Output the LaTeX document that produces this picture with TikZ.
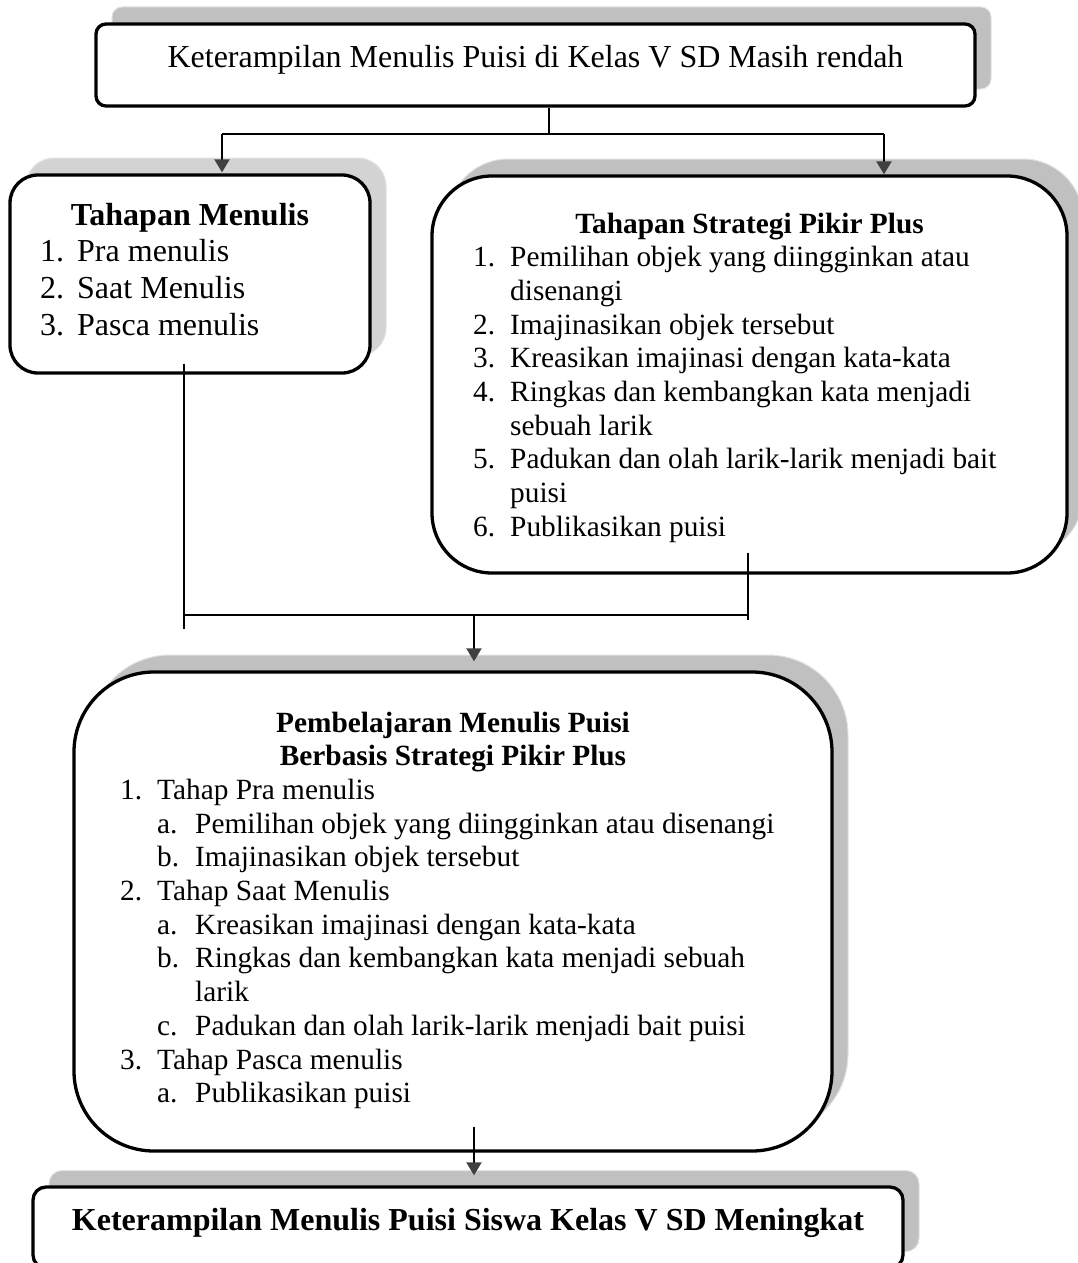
\documentclass[tikz,border=0pt]{standalone}
\usepackage{fontspec}
\setmainfont{Liberation Serif}
\usetikzlibrary{arrows.meta,calc}
\definecolor{shadowgray}{HTML}{C0C0C0}
\definecolor{shadowlight}{HTML}{D3D3D3}
\definecolor{shadowedge}{HTML}{E2E2E2}
\definecolor{tipgray}{HTML}{404040}
\tikzset{
  boxshape/.style={draw=black, line width=3.3pt, fill=white, inner sep=0pt},
  shadowshape/.style={draw=shadowedge, line width=1pt, fill=shadowgray, inner sep=0pt},
  bigtxt/.style={inner sep=0pt, font=\fontsize{32}{36.8}\selectfont},
  smalltxt/.style={inner sep=0pt, font=\fontsize{29.33}{33.7}\selectfont},
  conn/.style={draw=black, line width=1.6pt},
  arr/.style={draw=black, line width=2pt, -{Triangle[width=15pt,length=13pt,color=tipgray]}},
}
\begin{document}
\begin{tikzpicture}[x=1pt,y=-1pt]
\clip (0,0) rectangle (1078,1263);
\fill[white] (0,0) rectangle (1078,1263);

% ---------- shadows ----------
\node[shadowshape, rounded corners=10pt, minimum width=879pt, minimum height=82pt] (s1) at (551.5,48) {};
\node[shadowshape, fill=shadowlight, rounded corners=28pt, minimum width=360pt, minimum height=198pt] (s2) at (206,257) {};
\node[shadowshape, rounded corners=60pt, minimum width=635pt, minimum height=397pt] (s3) at (765.5,357.5) {};
\node[shadowshape, rounded corners=80pt, minimum width=758pt, minimum height=479pt] (s4) at (469,894.5) {};
\node[shadowshape, rounded corners=13pt, minimum width=870pt, minimum height=81pt] (s5) at (484,1211) {};

% ---------- boxes ----------
\node[boxshape, rounded corners=10pt, minimum width=879pt, minimum height=82pt] (box1) at (535.5,65) {};
\node[boxshape, rounded corners=28pt, minimum width=360pt, minimum height=198pt] (box2) at (190,274) {};
\node[boxshape, rounded corners=60pt, minimum width=635pt, minimum height=397pt] (box3) at (749.5,374.5) {};
\node[boxshape, rounded corners=80pt, minimum width=758pt, minimum height=479pt] (box4) at (453,911.5) {};
\node[boxshape, rounded corners=13pt, minimum width=870pt, minimum height=81pt] (box5) at (468,1227.5) {};

% ---------- texts ----------
\node[bigtxt, anchor=base] (t1) at (535.5,67) {Keterampilan Menulis Puisi di Kelas V SD Masih rendah};

\node[bigtxt, anchor=base, font=\fontsize{32}{36.8}\selectfont\bfseries] (t2h) at (190,225) {Tahapan Menulis};
\foreach \yy/\nn/\tt [count=\i] in {261.8/{1.}/{Pra menulis}, 298.6/{2.}/{Saat Menulis}, 335.4/{3.}/{Pasca menulis}}{
  \node[bigtxt, anchor=base west] (t2n\i) at (40,\yy) {\nn};
  \node[bigtxt, anchor=base west] (t2t\i) at (77,\yy) {\tt};
}

\node[smalltxt, anchor=base, font=\fontsize{29.33}{33.7}\selectfont\bfseries] (t3h) at (749.5,233) {Tahapan Strategi Pikir Plus};
\foreach \yy/\nn/\tt [count=\i] in {
  266.7/{1.}/{Pemilihan objek yang diingginkan atau},
  300.4/{}/{disenangi},
  334.1/{2.}/{Imajinasikan objek tersebut},
  367.8/{3.}/{Kreasikan imajinasi dengan kata-kata},
  401.5/{4.}/{Ringkas dan kembangkan kata menjadi},
  435.2/{}/{sebuah larik},
  468.9/{5.}/{Padukan dan olah larik-larik menjadi bait},
  502.6/{}/{puisi},
  536.3/{6.}/{Publikasikan puisi}}{
  \node[smalltxt, anchor=base west] (t3n\i) at (473,\yy) {\nn};
  \node[smalltxt, anchor=base west] (t3t\i) at (510,\yy) {\tt};
}

\node[smalltxt, anchor=base, font=\fontsize{29.33}{33.7}\selectfont\bfseries] (t4h1) at (453,732) {Pembelajaran Menulis Puisi};
\node[smalltxt, anchor=base, font=\fontsize{29.33}{33.7}\selectfont\bfseries] (t4h2) at (453,765.7) {Berbasis Strategi Pikir Plus};
\foreach \yy/\xn/\nn/\xt/\tt [count=\i] in {
  799.4/120/{1.}/157/{Tahap Pra menulis},
  833.1/157/{a.}/195/{Pemilihan objek yang diingginkan atau disenangi},
  866.8/157/{b.}/195/{Imajinasikan objek tersebut},
  900.5/120/{2.}/157/{Tahap Saat Menulis},
  934.2/157/{a.}/195/{Kreasikan imajinasi dengan kata-kata},
  967.9/157/{b.}/195/{Ringkas dan kembangkan kata menjadi sebuah},
  1001.6/157/{}/195/{larik},
  1035.3/157/{c.}/195/{Padukan dan olah larik-larik menjadi bait puisi},
  1069/120/{3.}/157/{Tahap Pasca menulis},
  1102.7/157/{a.}/195/{Publikasikan puisi}}{
  \node[smalltxt, anchor=base west] (t4n\i) at (\xn,\yy) {\nn};
  \node[smalltxt, anchor=base west] (t4t\i) at (\xt,\yy) {\tt};
}

\node[bigtxt, anchor=base, font=\fontsize{32}{36.8}\selectfont\bfseries] (t5) at (468,1230) {Keterampilan Menulis Puisi Siswa Kelas V SD Meningkat};

% ---------- connectors ----------
\coordinate (j1) at (549,134);
\coordinate (jL) at (222,134);
\coordinate (jR) at (884,134);
\draw[conn] (box1.south -| j1) -- (j1);
\draw[conn] (jL) -- (jR);
\draw[arr] (jL) -- ([yshift=1pt]jL |- box2.north);
\draw[arr] (jR) -- (jR |- box3.north);

\coordinate (lB) at (184,629);
\coordinate (rB) at (748,620);
\coordinate (hL) at (184,615);
\coordinate (hR) at (748,615);
\coordinate (jM) at (474,615);
\draw[conn] ([yshift=11pt]box2.south -| lB) -- (lB);
\draw[conn] ([yshift=22pt]box3.south -| rB) -- (rB);
\draw[conn] (hL) -- (hR);
\draw[arr] (jM) -- ([yshift=9pt]jM |- box4.north);
\draw[arr] ([yshift=26pt]box4.south -| jM) -- ([yshift=10pt]box5.north -| jM);
\end{tikzpicture}
\end{document}
